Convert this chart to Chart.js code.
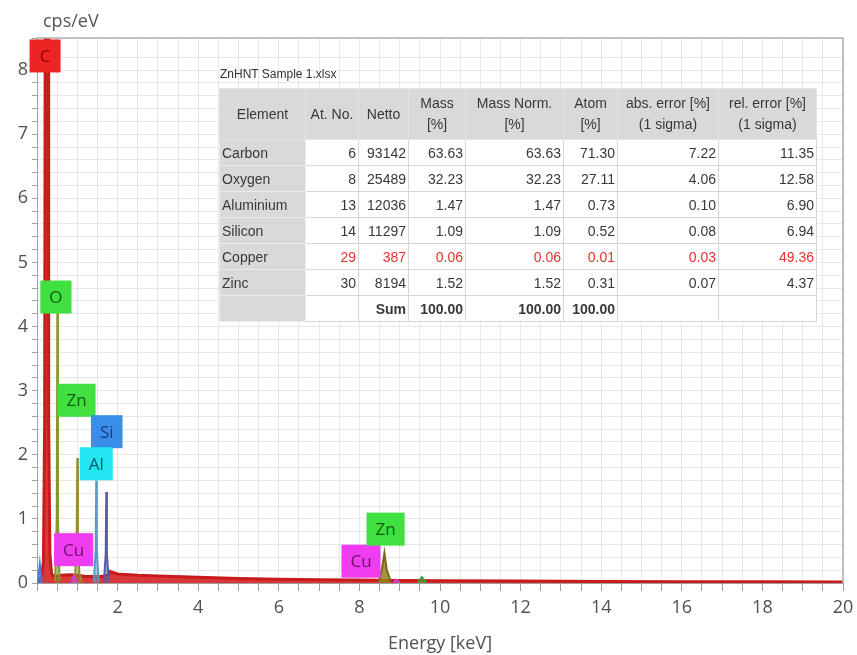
<!DOCTYPE html>
<html>
<head>
<meta charset="utf-8">
<script src="https://cdn.jsdelivr.net/npm/chart.js@4.4.1/dist/chart.umd.min.js"></script>
<style>
    body { margin: 0; background: #fff; }
    #wrap { position: relative; width: 857px; height: 655px; }
    #caption { position: absolute; left: 220px; top: 67px; font: 12px "Liberation Sans", Arial, sans-serif; color: #333; }
    #result { position: absolute; left: 219px; top: 88px; border-collapse: collapse; table-layout: fixed;
        font: 14px "Liberation Sans", Arial, sans-serif; color: #383838; }
    #result td { border: 1px solid #d6d6d6; background: #fff; padding: 0 2px; height: 25px; text-align: right; white-space: nowrap; overflow: hidden; }
    #result td.head { background: #d9d9d9; border-color: #e4e4e4; text-align: center; height: 50px; line-height: 21px; }
    #result td.name { background: #d9d9d9; border-color: #ececec; text-align: left; }
    #result tr.flag td { color: #e8302e; }
    #result tr.flag td.name { color: #383838; }
    #result td.bold { font-weight: bold; }
</style>
</head>
<body>
<div id="wrap">
    <canvas id="spectrum" width="857" height="655"></canvas>
    <div id="caption">ZnHNT Sample 1.xlsx</div>
    <table id="result"></table>
</div>
<script>
const spectrumEnergy = [0, 0.06, 0.12, 0.16, 0.19, 0.205, 0.275, 0.29, 0.32, 0.36, 0.42, 0.6, 0.8, 1.0, 1.2, 1.4, 1.6, 1.76, 1.8, 1.9, 2.0, 2.5, 3, 4, 5, 6, 7, 8, 9, 10, 12, 14, 16, 18, 20];
const spectrumCounts = [0, 0.04, 0.12, 0.35, 2.5, 9.5, 9.5, 2.5, 0.45, 0.15, 0.1, 0.12, 0.13, 0.12, 0.1, 0.1, 0.1, 0.12, 0.18, 0.16, 0.14, 0.12, 0.11, 0.09, 0.07, 0.06, 0.05, 0.045, 0.04, 0.035, 0.03, 0.025, 0.02, 0.02, 0.015];

// element line fits
const lowEnergy = [0.02, 0.07, 0.12];
const lowCounts = [0, 0.3, 0];
const oEnergy = [0.45, 0.49, 0.505, 0.52, 0.56];
const oCounts = [0.03, 1.0, 4.3, 1.0, 0.03];
const znLEnergy = [0.88, 0.95, 0.985, 1.0, 1.015, 1.05, 1.12];
const znLCounts = [0.02, 0.15, 0.8, 1.95, 0.8, 0.15, 0.02];
const cuLEnergy = [0.84, 0.92, 1.0];
const cuLCounts = [0, 0.12, 0];
const alEnergy = [1.41, 1.455, 1.47, 1.485, 1.53];
const alCounts = [0.02, 0.5, 1.6, 0.5, 0.02];
const siEnergy = [1.66, 1.705, 1.72, 1.735, 1.78];
const siCounts = [0.02, 0.45, 1.42, 0.45, 0.02];
const znKEnergy = [8.48, 8.56, 8.62, 8.68, 8.78];
const znKCounts = [0.02, 0.22, 0.47, 0.2, 0.02];
const cuKEnergy = [8.85, 8.92, 9.0];
const cuKCounts = [0.01, 0.05, 0.01];
const znKbEnergy = [9.45, 9.55, 9.65];
const znKbCounts = [0.01, 0.09, 0.01];

// peak labels
const labelText = ['C', 'O', 'Zn', 'Si', 'Al', 'Cu', 'Cu', 'Zn'];
const labelEnergy = [0.2, 0.47, 0.98, 1.73, 1.47, 0.91, 8.04, 8.65];
const labelHeight = [8.22, 4.46, 2.85, 2.36, 1.86, 0.52, 0.34, 0.84];

// quantification table
const tableElements = ['Carbon', 'Oxygen', 'Aluminium', 'Silicon', 'Copper', 'Zinc'];
const atomicNumbers = [6, 8, 13, 14, 29, 30];
const nettoCounts = [93142, 25489, 12036, 11297, 387, 8194];
const massPct = [63.63, 32.23, 1.47, 1.09, 0.06, 1.52];
const massNormPct = [63.63, 32.23, 1.47, 1.09, 0.06, 1.52];
const atomPct = [71.30, 27.11, 0.73, 0.52, 0.01, 0.31];
const absError = [7.22, 4.06, 0.10, 0.08, 0.03, 0.07];
const relError = [11.35, 12.58, 6.90, 6.94, 49.36, 4.37];
const sumRow = [100.00, 100.00, 100.00]; // mass, mass norm., atom
const flaggedRows = ['Copper'];

const labelStyle = {
    C: { fill: '#ee2424', ink: '#8b0000' },
    O: { fill: '#3fe03f', ink: '#145c14' },
    Zn: { fill: '#3fe03f', ink: '#145c14' },
    Si: { fill: '#3a8de8', ink: '#183c78' },
    Al: { fill: '#24e6f2', ink: '#0d5866' },
    Cu: { fill: '#f03cf0', ink: '#6b0f6b' }
};

const FONT = '"Open Sans", "Liberation Sans", sans-serif';

function points(e, c) {
    return e.map((v, i) => ({x: v, y: c[i]}));
}

function peak(e, c, line, area) {
    return {
        data: points(e, c),
        borderColor: line,
        backgroundColor: area,
        borderWidth: 2,
        fill: 'origin',
        pointRadius: 0,
        tension: 0
    };
}

// table
const tbl = document.getElementById('result');
const colWidths = [86, 53, 50, 57, 98, 54, 101, 98];
let html = '<colgroup>' + colWidths.map(w => '<col style="width:' + w + 'px">').join('') + '</colgroup>';
html += '<tr>' + ['Element', 'At. No.', 'Netto', 'Mass<br>[%]', 'Mass Norm.<br>[%]', 'Atom<br>[%]', 'abs. error [%]<br>(1 sigma)', 'rel. error [%]<br>(1 sigma)']
    .map(h => '<td class="head">' + h + '</td>').join('') + '</tr>';
tableElements.forEach((el, i) => {
    const cls = flaggedRows.includes(el) ? ' class="flag"' : '';
    html += '<tr' + cls + '><td class="name">' + el + '</td><td>' + atomicNumbers[i] + '</td><td>' + nettoCounts[i] + '</td><td>' +
        massPct[i].toFixed(2) + '</td><td>' + massNormPct[i].toFixed(2) + '</td><td>' + atomPct[i].toFixed(2) + '</td><td>' +
        absError[i].toFixed(2) + '</td><td>' + relError[i].toFixed(2) + '</td></tr>';
});
html += '<tr><td class="name"></td><td></td><td class="bold">Sum</td>' +
    sumRow.map(v => '<td class="bold">' + v.toFixed(2) + '</td>').join('') + '<td></td><td></td></tr>';
tbl.innerHTML = html;

const decorations = {
    id: 'decorations',
    afterDatasetsDraw(chart) {
        const {ctx, chartArea, scales: {x, y}} = chart;
        ctx.save();
        // frame top and right
        ctx.strokeStyle = '#b0b0b0';
        ctx.lineWidth = 1.5;
        ctx.beginPath();
        ctx.moveTo(chartArea.left, chartArea.top);
        ctx.lineTo(chartArea.right, chartArea.top);
        ctx.lineTo(chartArea.right, chartArea.bottom);
        ctx.stroke();

        ctx.font = '17px ' + FONT;
        ctx.textAlign = 'center';
        ctx.textBaseline = 'middle';
        labelText.forEach((t, i) => {
            const cx = x.getPixelForValue(labelEnergy[i]);
            const cy = y.getPixelForValue(labelHeight[i]);
            const w = Math.max(31, ctx.measureText(t).width + 18);
            const h = 33;
            ctx.fillStyle = labelStyle[t].fill;
            ctx.fillRect(cx - w / 2, cy - h / 2, w, h);
            ctx.fillStyle = labelStyle[t].ink;
            ctx.fillText(t, cx, cy + 1);
        });

        ctx.font = '18px ' + FONT;
        ctx.fillStyle = '#555';
        ctx.textAlign = 'left';
        ctx.fillText('cps/eV', chartArea.left + 6, chartArea.top - 16);
        ctx.restore();
    }
};

new Chart(document.getElementById('spectrum'), {
    type: 'line',
    data: {
        datasets: [
            peak(znKbEnergy, znKbCounts, '#3f9f3f', 'rgba(70,170,70,0.6)'),
            peak(cuKEnergy, cuKCounts, '#d040d0', 'rgba(220,70,220,0.6)'),
            peak(znKEnergy, znKCounts, '#7a6a18', 'rgba(150,128,30,0.85)'),
            peak(siEnergy, siCounts, '#5a5aa8', 'rgba(90,90,170,0.5)'),
            peak(alEnergy, alCounts, '#5a9ac0', 'rgba(90,160,200,0.5)'),
            peak(cuLEnergy, cuLCounts, '#d040d0', 'rgba(220,70,220,0.6)'),
            peak(znLEnergy, znLCounts, '#9a8a30', 'rgba(140,150,50,0.5)'),
            peak(oEnergy, oCounts, '#85982a', 'rgba(120,150,40,0.5)'),
            peak(lowEnergy, lowCounts, '#4a7fd0', 'rgba(74,127,208,0.6)'),
            {
                data: points(spectrumEnergy, spectrumCounts),
                borderColor: '#c81c1c',
                backgroundColor: 'rgba(214,34,34,0.9)',
                borderWidth: 3,
                fill: 'origin',
                pointRadius: 0,
                tension: 0
            }
        ]
    },
    options: {
        responsive: false,
        animation: false,
        devicePixelRatio: 1,
        layout: {padding: {top: 38, right: 14, left: 0, bottom: 0}},
        plugins: {legend: {display: false}, tooltip: {enabled: false}},
        scales: {
            x: {
                type: 'linear',
                min: 0,
                max: 20,
                ticks: {
                    stepSize: 0.5,
                    autoSkip: false,
                    maxRotation: 0,
                    padding: 6,
                    color: '#505050',
                    font: {size: 18, family: FONT},
                    callback: v => (v > 0 && Math.abs(v / 2 - Math.round(v / 2)) < 1e-6) ? String(Math.round(v)) : ''
                },
                grid: {color: '#e8e8e8', tickColor: '#a0a0a0', tickLength: 8},
                border: {color: '#a0a0a0'},
                title: {display: true, text: 'Energy [keV]', color: '#505050', font: {size: 18, family: FONT}, padding: {top: 0, bottom: 0}},
                afterFit: s => { s.height = 72; s.paddingLeft = 0; s.paddingRight = 0; }
            },
            y: {
                type: 'linear',
                min: 0,
                max: 8.5,
                ticks: {
                    stepSize: 0.2,
                    autoSkip: false,
                    padding: 4,
                    color: '#505050',
                    font: {size: 18, family: FONT},
                    callback: v => Math.abs(v - Math.round(v)) < 1e-6 ? String(Math.round(v)) : ''
                },
                grid: {color: '#e8e8e8', tickColor: '#a0a0a0', tickLength: 5},
                border: {color: '#a0a0a0'},
                afterFit: s => { s.width = 37; }
            }
        }
    },
    plugins: [decorations]
});
</script>
</body>
</html>
